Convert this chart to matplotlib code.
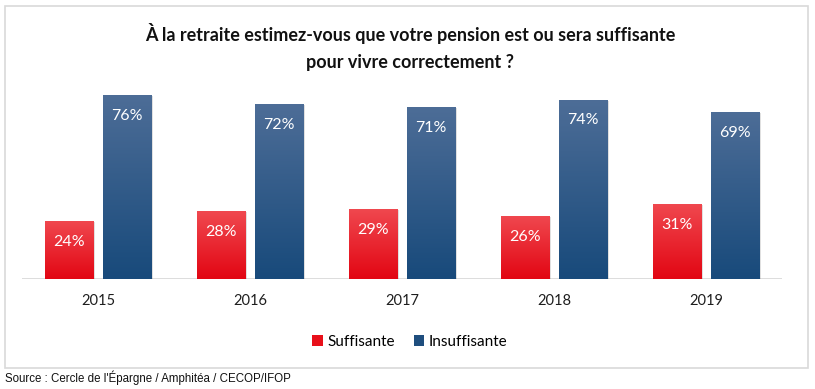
"""
Retraite : pension suffisante ou insuffisante (2015-2019).
Genere out.png
"""
import numpy as np
import matplotlib.pyplot as plt
from matplotlib.patches import Rectangle, Patch
from matplotlib.colors import LinearSegmentedColormap

years = ["2015", "2016", "2017", "2018", "2019"]
suffisante = [24, 28, 29, 26, 31]
insuffisante = [76, 72, 71, 74, 69]

RED_TOP, RED_BOT = "#F0484F", "#E20613"
BLUE_TOP, BLUE_BOT = "#4D6D97", "#184A7B"
RED, BLUE = "#E8101A", "#1F4E7E"

plt.rcParams.update({"font.family": ["Lato", "DejaVu Sans"]})

W, H = 815, 389
fig = plt.figure(figsize=(W / 100, H / 100), dpi=100)

# cadre gris
fig.add_artist(Rectangle((5 / W, 1 - 368 / H), 803 / W, 362 / H,
                         transform=fig.transFigure, fill=False,
                         ec="#D9D9D9", lw=1.2))

ax = fig.add_axes([22 / W, 1 - 279 / H, 760 / W, 194 / H])
ax.axis("off")
ax.axhline(0, color="#D9D9D9", lw=2, zorder=1)

x = np.arange(len(years))
bw, off = 0.316, 0.19


def gradient_bars(xs, vals, top, bot):
    cmap = LinearSegmentedColormap.from_list("g", [bot, top])
    bars = ax.bar(xs, vals, width=bw, color="none", zorder=3)
    grad = np.linspace(0, 1, 100).reshape(-1, 1)
    for b in bars:
        x0, w, h = b.get_x(), b.get_width(), b.get_height()
        # ombre legere
        ax.add_patch(Rectangle((x0 + 0.012, 0), w, h - 0.4, fc="#000000",
                               alpha=0.12, ec="none", zorder=2))
        im = ax.imshow(grad, extent=[x0, x0 + w, 0, h], origin="lower",
                       cmap=cmap, aspect="auto", zorder=3)
        im.set_clip_path(b)
    return bars


gradient_bars(x - off, suffisante, RED_TOP, RED_BOT)
gradient_bars(x + off, insuffisante, BLUE_TOP, BLUE_BOT)
ax.set_xlim(-0.5, len(years) - 0.5)
ax.set_ylim(0, 80)

for i in range(len(years)):
    ax.text(x[i] - off, suffisante[i] - 8.6, f"{suffisante[i]}%", ha="center",
            va="center", color="white", fontsize=11.5, zorder=5)
    ax.text(x[i] + off, insuffisante[i] - 8.6, f"{insuffisante[i]}%", ha="center",
            va="center", color="white", fontsize=11.5, zorder=5)
    ax.text(x[i], -8.9, years[i], ha="center", va="center", fontsize=10.5,
            color="#1E1E1E")

fig.text(410 / W, 1 - 47 / H,
         "À la retraite estimez-vous que votre pension est ou sera suffisante\n"
         "pour vivre correctement ?",
         ha="center", va="center", fontsize=13, fontweight="bold",
         linespacing=1.7, color="#111111")

handles = [Patch(fc=RED, ec="none", label="Suffisante"),
           Patch(fc=BLUE, ec="none", label="Insuffisante")]
fig.legend(handles=handles, loc="center", bbox_to_anchor=(410 / W, 1 - 342 / H),
           ncol=2, frameon=False, fontsize=11, handlelength=0.7,
           handleheight=0.7, handletextpad=0.3, columnspacing=1.2)

fig.text(5 / W, 1 - 378 / H, "Source : Cercle de l'Épargne / Amphitéa / CECOP/IFOP",
         ha="left", va="center", fontsize=8.3, family="Liberation Sans",
         color="#111111")

plt.savefig("out.png", dpi=100)
plt.close()
